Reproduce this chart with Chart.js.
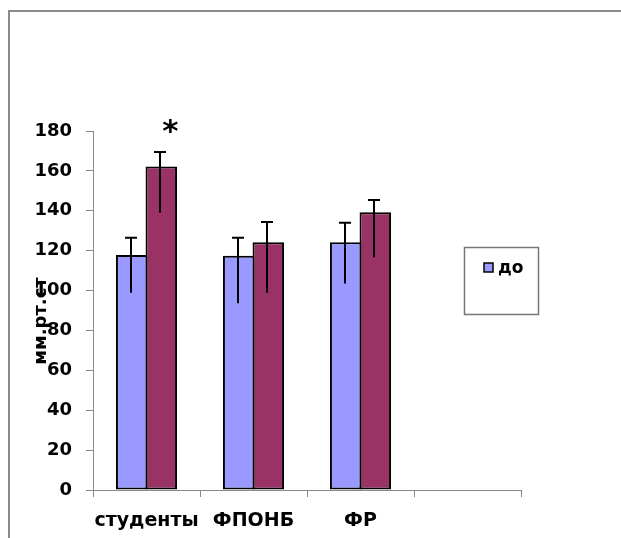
<!DOCTYPE html>
<html>
<head>
<meta charset="utf-8">
<script src="https://cdn.jsdelivr.net/npm/chart.js@4.4.1/dist/chart.umd.min.js"></script>
<style>
html, body { margin: 0; padding: 0; background: #fff; }
#wrap { position: relative; width: 621px; height: 538px; overflow: hidden; }
#frame { position: absolute; left: 8px; top: 10px; width: 700px; height: 600px;
         border-left: 2px solid #8a8a8a; border-top: 2px solid #8a8a8a; }
#chart { position: absolute; left: 0; top: 0; }
</style>
</head>
<body>
<div id="wrap">
  <div id="frame"></div>
  <canvas id="chart" width="621" height="538"></canvas>
</div>
<script>
// data
var categories = ["студенты", "ФПОНБ", "ФР", ""];
var seriesNames = ["до", "после"];
var before = [117.8, 117.5, 124.2, null];
var after = [162.2, 124.2, 139.3, null];
var beforeHigh = [126.5, 126.5, 134.0, null];
var beforeLow = [98.9, 93.6, 103.6, null];
var afterHigh = [169.5, 134.4, 145.4, null];
var afterLow = [139.0, 98.9, 116.7, null];
var afterMarks = ["*", "", "", ""];
var yTitle = "мм.рт.ст";

var FONT = "'DejaVu Sans', Arial, sans-serif";
var errors = [[beforeLow, beforeHigh], [afterLow, afterHigh]];

var errorBars = {
    id: 'errorBars',
    afterDatasetsDraw: function (chart) {
        var ctx = chart.ctx, y = chart.scales.y;
        ctx.save();
        ctx.strokeStyle = '#000';
        ctx.lineWidth = 2;
        errors.forEach(function (e, i) {
            var meta = chart.getDatasetMeta(i);
            meta.data.forEach(function (bar, j) {
                if (e[1][j] == null) return;
                var x = Math.round(bar.x) - 1;
                var hi = y.getPixelForValue(e[1][j]);
                var lo = y.getPixelForValue(e[0][j]);
                ctx.beginPath();
                ctx.moveTo(x, lo);
                ctx.lineTo(x, hi);
                ctx.moveTo(x - 6, hi);
                ctx.lineTo(x + 6, hi);
                ctx.stroke();
            });
        });
        // significance marks
        var meta2 = chart.getDatasetMeta(1);
        ctx.fillStyle = '#000';
        ctx.font = "bold 31px " + FONT;
        ctx.textAlign = 'center';
        ctx.textBaseline = 'top';
        afterMarks.forEach(function (m, j) {
            if (!m) return;
            ctx.fillText(m, meta2.data[j].x + 9, chart.chartArea.top - 14);
        });
        ctx.restore();
    }
};

var extras = {
    id: 'extras',
    afterDraw: function (chart) {
        var ctx = chart.ctx;
        ctx.save();
        // y axis title, sits over the tick labels like the original
        ctx.translate(41, 321);
        ctx.rotate(-Math.PI / 2);
        ctx.fillStyle = '#000';
        ctx.font = "bold 18px " + FONT;
        ctx.textAlign = 'center';
        ctx.textBaseline = 'middle';
        ctx.fillText(yTitle, 0, 0);
        ctx.restore();

        // legend box (only the first series shows)
        var ds = chart.data.datasets[0];
        ctx.save();
        ctx.strokeStyle = '#777';
        ctx.lineWidth = 1.5;
        ctx.strokeRect(464.5, 247.5, 74, 67);
        ctx.fillStyle = ds.backgroundColor;
        ctx.fillRect(484, 263, 9, 9);
        ctx.strokeStyle = '#000';
        ctx.lineWidth = 1.5;
        ctx.strokeRect(484, 263, 9, 9);
        ctx.fillStyle = '#000';
        ctx.font = "bold 17px " + FONT;
        ctx.textBaseline = 'middle';
        ctx.fillText(ds.label, 498, 269);
        ctx.restore();
    }
};

new Chart('chart', {
    type: 'bar',
    data: {
        labels: categories,
        datasets: [{
            label: seriesNames[0],
            data: before,
            backgroundColor: '#9999ff',
            borderColor: '#000',
            borderWidth: 2,
            borderSkipped: false,
            categoryPercentage: 0.553,
            barPercentage: 1.065
        }, {
            label: seriesNames[1],
            data: after,
            backgroundColor: '#993366',
            borderColor: '#000',
            borderWidth: 2,
            borderSkipped: false,
            categoryPercentage: 0.553,
            barPercentage: 1.065
        }]
    },
    options: {
        responsive: false,
        animation: false,
        layout: { padding: { left: 0, right: 100, top: 131, bottom: 0 } },
        plugins: {
            legend: { display: false },
            tooltip: { enabled: false }
        },
        scales: {
            x: {
                grid: { offset: true, drawOnChartArea: false, tickLength: 7, color: '#888' },
                border: { color: '#888', width: 1 },
                ticks: {
                    color: '#000', padding: 13, maxRotation: 0, autoSkip: false,
                    font: { family: FONT, size: 19, weight: 'bold' }
                },
                afterFit: function (s) { s.height = 48; }
            },
            y: {
                min: 0,
                max: 180,
                grid: { drawOnChartArea: false, tickLength: 7, color: '#888' },
                border: { color: '#888', width: 1 },
                ticks: {
                    stepSize: 20, color: '#000', padding: 14,
                    font: { family: FONT, size: 18, weight: 'bold' }
                },
                afterFit: function (s) { s.width = 93; }
            }
        }
    },
    plugins: [errorBars, extras]
});
</script>
</body>
</html>
